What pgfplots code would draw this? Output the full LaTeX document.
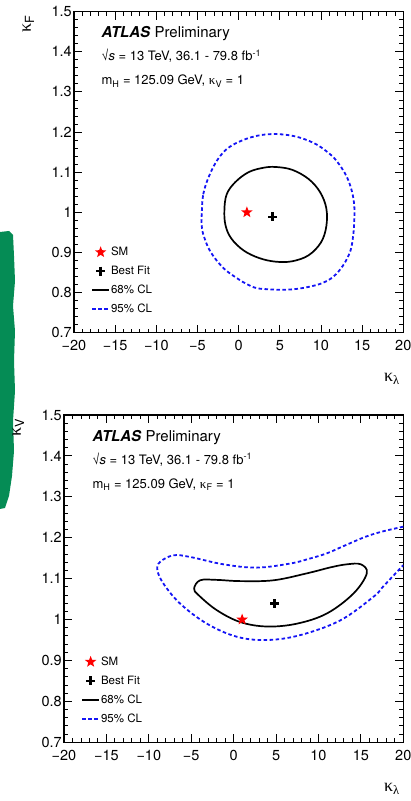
\documentclass[border=0pt]{standalone}
\usepackage{fontspec}
\setmainfont{TeX Gyre Heros}
\newfontfamily\symb{Liberation Serif}
\usepackage{pgfplots}
\pgfplotsset{compat=1.18}

\definecolor{clblue}{RGB}{20,20,245}
\definecolor{smred}{RGB}{255,0,0}
\definecolor{pengreen}{RGB}{5,140,85}

\newcommand{\kap}{{\symb κ}}

% filled five-pointed star for the SM point
\pgfdeclareplotmark{fullstar}{%
  \pgfpathmoveto{\pgfpointpolar{90}{\pgfplotmarksize}}%
  \pgfpathlineto{\pgfpointscale{0.42}{\pgfpointpolar{126}{\pgfplotmarksize}}}%
  \pgfpathlineto{\pgfpointpolar{162}{\pgfplotmarksize}}%
  \pgfpathlineto{\pgfpointscale{0.42}{\pgfpointpolar{198}{\pgfplotmarksize}}}%
  \pgfpathlineto{\pgfpointpolar{234}{\pgfplotmarksize}}%
  \pgfpathlineto{\pgfpointscale{0.42}{\pgfpointpolar{270}{\pgfplotmarksize}}}%
  \pgfpathlineto{\pgfpointpolar{306}{\pgfplotmarksize}}%
  \pgfpathlineto{\pgfpointscale{0.42}{\pgfpointpolar{342}{\pgfplotmarksize}}}%
  \pgfpathlineto{\pgfpointpolar{18}{\pgfplotmarksize}}%
  \pgfpathlineto{\pgfpointscale{0.42}{\pgfpointpolar{54}{\pgfplotmarksize}}}%
  \pgfpathclose\pgfusepathqfill}

\pgfplotsset{
  rootframe/.style={
    scale only axis,
    clip mode=individual,
    xmin=-20, xmax=20, ymin=0.7, ymax=1.5,
    xtick={-20,-15,-10,-5,0,5,10,15,20},
    xticklabels={−20,−15,−10,−5,0,5,10,15,20},
    ytick={0.7,0.8,0.9,1,1.1,1.2,1.3,1.4,1.5},
    yticklabels={0.7,0.8,0.9,1,1.1,1.2,1.3,1.4,1.5},
    minor x tick num=4, minor y tick num=4,
    major tick length=8pt, minor tick length=4pt,
    tick style={black, line width=0.9pt},
    axis line style={line width=1.2pt},
    ticklabel style={font=\fontsize{14.5}{17}\selectfont},
    xticklabel style={inner sep=0pt, yshift=-7.5pt},
    yticklabel style={inner sep=0pt, xshift=-2pt},
    legend style={draw=none, fill=none, at={(0,0)}, anchor=south west,
      xshift=17pt, yshift=17pt, inner sep=0pt, row sep=6.5pt,
      font=\fontsize{11.5}{13}\selectfont,
      nodes={inner sep=1pt, text height=8.5pt, text depth=2pt}},
    legend cell align=left,
  },
  cl68/.style={black, line width=1.7pt},
  cl95/.style={clblue, line width=1.8pt, dash pattern=on 3.5pt off 2.5pt},
  smpoint/.style={only marks, mark=fullstar, smred, mark size=6pt},
  bfpoint/.style={only marks, mark=+, black, mark size=4.5pt, mark options={line width=2.4pt}},
}

\newcommand{\legendset}{%
  \addlegendimage{smpoint}\addlegendentry{SM}
  \addlegendimage{bfpoint}\addlegendentry{Best Fit}
  \addlegendimage{black, line width=1.7pt}\addlegendentry{68\% CL}
  \addlegendimage{clblue, line width=1.8pt, dash pattern=on 3.5pt off 2.5pt}\addlegendentry{95\% CL}
}

\begin{document}
\begin{tikzpicture}
\useasboundingbox (0pt,0pt) rectangle (411pt,801pt);

% pen stroke along the left margin
\fill[pengreen] (0pt,569pt) -- (9pt,570pt) -- (13pt,566pt) -- (14pt,545pt) -- (15pt,520pt)
  -- (13pt,495pt) -- (15pt,470pt) -- (14pt,440pt) -- (15pt,410pt) -- (13pt,380pt)
  -- (14pt,350pt) -- (12pt,325pt) -- (9pt,305pt) -- (5pt,293pt) -- (0pt,292pt) -- cycle;

% ---- top panel: kappa_lambda vs kappa_F (kappa_V = 1)
\begin{axis}[rootframe, name=top, at={(74pt,468.3pt)}, anchor=south west,
  width=329.3pt, height=321pt]
\legendset
\addplot[cl95, smooth cycle, tension=0.6, forget plot] coordinates {
  (-4.48,0.998) (-4.3,1.045) (-3.6,1.090) (-2.5,1.133) (-1.03,1.164)
  (1.5,1.187) (4.03,1.195) (6.7,1.190) (9.1,1.173) (10.8,1.150)
  (11.94,1.127) (13.1,1.090) (13.76,1.052) (14.05,1.015) (14.04,0.977)
  (13.9,0.940) (13.56,0.903) (12.7,0.868) (11.53,0.840) (10.2,0.824)
  (8.69,0.815) (7.0,0.809) (5.45,0.807) (3.8,0.808) (2.21,0.811)
  (1.0,0.821) (-0.22,0.836) (-1.9,0.862) (-3.46,0.903) (-4.28,0.944)
  (-4.5,0.970)};
\addplot[cl68, smooth cycle, tension=0.6, forget plot] coordinates {
  (-1.73,1.006) (-1.45,1.045) (-0.42,1.075) (1.2,1.100) (3.0,1.111)
  (4.5,1.113) (6.5,1.106) (8.5,1.083) (9.9,1.050) (10.65,1.010)
  (10.65,0.965) (10.0,0.925) (8.5,0.893) (6.5,0.878) (4.5,0.877)
  (2.5,0.886) (0.6,0.905) (-0.9,0.935) (-1.6,0.968)};
\addplot[smpoint, forget plot] coordinates {(1,1)};
\addplot[bfpoint, forget plot] coordinates {(4.13,0.989)};
\node[anchor=base west, font=\fontsize{15}{18}\selectfont]
  at ([xshift=24pt,yshift=-26.3pt]rel axis cs:0,1) {\textbf{\textit{ATLAS}} Preliminary};
\node[anchor=base west, font=\fontsize{13}{15}\selectfont]
  at ([xshift=24pt,yshift=-49.3pt]rel axis cs:0,1) {√\textit{s} = 13 TeV, 36.1 - 79.8 fb\textsuperscript{-1}};
\node[anchor=base west, font=\fontsize{13}{15}\selectfont]
  at ([xshift=24pt,yshift=-73.3pt]rel axis cs:0,1) {m\textsubscript{H} = 125.09 GeV, \kap\textsubscript{V} = 1};
\node[anchor=base east, font=\fontsize{18}{20}\selectfont]
  at ([yshift=-49pt]rel axis cs:1,0) {\kap\textsubscript{{\symb λ}}};
\node[anchor=base east, rotate=90, font=\fontsize{18}{20}\selectfont]
  at ([xshift=-43pt]rel axis cs:0,1) {\kap\textsubscript{F}};
\end{axis}

% ---- bottom panel: kappa_lambda vs kappa_V (kappa_F = 1)
\begin{axis}[rootframe, name=bottom, at={(64pt,58.7pt)}, anchor=south west,
  width=339.3pt, height=327.3pt]
\legendset
\addplot[cl95, smooth, tension=0.6, forget plot] coordinates {
  (20,1.227) (17.5,1.215) (15.5,1.202) (13.0,1.180) (11.0,1.162)
  (8.8,1.148) (6.67,1.137) (2.74,1.127) (-1.2,1.135) (-5.13,1.153)
  (-7.1,1.157) (-8.67,1.141) (-8.99,1.121) (-8.28,1.088) (-6.31,1.039)
  (-3.16,0.990) (0.38,0.958) (3.92,0.950) (7.85,0.962) (12.57,0.998)
  (16.5,1.056) (17.64,1.081) (20,1.133)};
\addplot[cl68, smooth cycle, tension=0.6, forget plot] coordinates {
  (-4.66,1.076) (-3.95,1.096) (-2.0,1.097) (0.77,1.094) (4.70,1.096)
  (8.64,1.113) (11.5,1.128) (13.35,1.135) (15.0,1.135) (15.7,1.113)
  (14.14,1.064) (11.0,1.015) (7.46,0.990) (3.92,0.983) (0.77,0.994)
  (-1.99,1.023) (-4.15,1.060)};
\addplot[smpoint, forget plot] coordinates {(1,1)};
\addplot[bfpoint, forget plot] coordinates {(4.82,1.039)};
\node[anchor=base west, font=\fontsize{15}{18}\selectfont]
  at ([xshift=25pt,yshift=-26pt]rel axis cs:0,1) {\textbf{\textit{ATLAS}} Preliminary};
\node[anchor=base west, font=\fontsize{13}{15}\selectfont]
  at ([xshift=25pt,yshift=-49pt]rel axis cs:0,1) {√\textit{s} = 13 TeV, 36.1 - 79.8 fb\textsuperscript{-1}};
\node[anchor=base west, font=\fontsize{13}{15}\selectfont]
  at ([xshift=25pt,yshift=-73pt]rel axis cs:0,1) {m\textsubscript{H} = 125.09 GeV, \kap\textsubscript{F} = 1};
\node[anchor=base east, font=\fontsize{18}{20}\selectfont]
  at ([yshift=-49.5pt]rel axis cs:1,0) {\kap\textsubscript{{\symb λ}}};
\node[anchor=base east, rotate=90, font=\fontsize{18}{20}\selectfont]
  at ([xshift=-43pt]rel axis cs:0,1) {\kap\textsubscript{V}};
\end{axis}
\end{tikzpicture}
\end{document}
